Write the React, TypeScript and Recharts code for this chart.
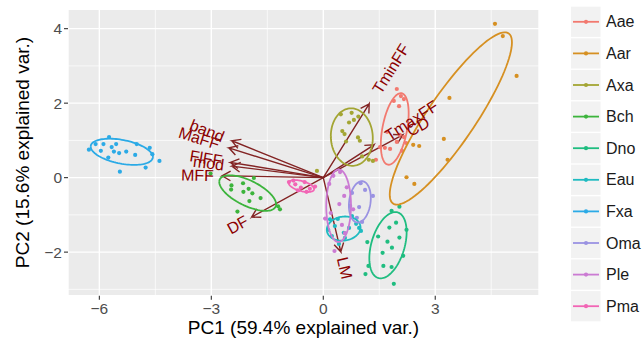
import React from 'react';
import { ScatterChart, Scatter, XAxis, YAxis, CartesianGrid, ReferenceLine, Label } from 'recharts';

const FONT = "'Liberation Sans', Arial, Helvetica, sans-serif";

const groupNames = ['Aae', 'Aar', 'Axa', 'Bch', 'Dno', 'Eau', 'Fxa', 'Oma', 'Ple', 'Pma'];
const groupColors = ['#F2796F', '#D69022', '#A3A533', '#3CB43C', '#1FBD80', '#1FBBC1', '#2BAAE6', '#9A92E2', '#CB7BD3', '#F265B5'];

// PC1, PC2 scores per group
const aae = [[1.97, 2.38], [2.08, 2.19], [1.89, 2.06], [2.16, 2.11], [2.03, 1.92], [1.71, 1.23], [2.05, 1.15], [1.65, 0.80], [1.79, 0.77], [1.97, 0.96], [2.16, 1.09], [2.22, 0.93], [1.41, 0.48], [2.11, 0.72], [1.52, 0.82]];
const aar = [[4.60, 4.13], [4.81, 3.80], [5.18, 2.73], [3.38, 2.14], [3.23, 1.04], [2.57, 0.85], [2.41, 0.88], [3.33, 0.48], [2.23, 0.01], [2.44, -0.17]];
const axa = [[0.47, 1.70], [0.76, 1.74], [0.94, 1.64], [0.69, 1.48], [0.51, 1.25], [0.57, 1.17], [0.61, 0.97], [0.93, 1.08], [0.98, 0.99], [1.04, 0.57], [1.22, 0.48], [1.33, 0.45], [-0.17, 0.18], [0.82, 1.55]];
const bch = [[-3.02, 0.11], [-2.46, -0.21], [-2.47, -0.32], [-2.15, -0.15], [-1.86, -0.01], [-2.14, -0.38], [-2.00, -0.30], [-1.90, -0.42], [-1.68, -0.55], [-1.98, -0.63], [-2.30, -0.91], [-1.21, -0.77], [-1.16, -0.85]];
const dno = [[1.83, -0.89], [2.04, -0.78], [1.95, -1.21], [1.77, -1.34], [2.23, -1.40], [1.47, -1.58], [2.04, -1.61], [1.18, -1.73], [1.59, -2.02], [2.14, -2.10], [1.21, -2.37], [1.61, -2.37], [1.83, -2.40], [1.13, -2.59], [1.89, -2.85], [1.72, -1.72], [1.84, -1.88]];
const eau = [[0.18, -1.12], [0.39, -1.11], [0.31, -1.30], [0.13, -1.40], [0.55, -1.48], [0.69, -1.35], [0.77, -1.03], [0.96, -1.35], [1.01, -1.43], [0.42, -1.78], [0.58, -1.62], [0.88, -1.24], [0.23, -1.57]];
const fxa = [[-6.28, 0.75], [-6.10, 0.90], [-5.89, 0.90], [-5.74, 1.09], [-5.55, 0.90], [-5.67, 0.82], [-5.96, 0.72], [-5.61, 0.70], [-5.47, 0.66], [-5.28, 0.70], [-5.76, 0.54], [-5.00, 0.90], [-5.04, 0.61], [-4.65, 0.80], [-4.58, 0.63], [-4.39, 0.45], [-4.76, 0.27], [-5.45, 0.16]];
const oma = [[0.72, -0.76], [0.96, -0.79], [1.33, -0.49], [0.90, -1.08], [1.12, -0.33], [0.77, -0.41], [1.04, -1.19], [1.00, -0.15]];
const ple = [[0.27, 0.05], [0.16, -0.17], [0.63, -0.26], [0.56, -0.49], [0.43, -0.71], [0.50, -1.27], [0.58, -1.49], [0.30, -1.97], [0.20, -0.95], [0.45, 0.15], [0.80, -0.85], [0.05, -1.10]];
const pma = [[-0.92, -0.12], [-0.75, -0.18], [-0.60, -0.27], [-0.50, -0.12], [-0.36, -0.30], [-0.22, -0.24], [-0.68, -0.34], [-0.45, -0.38], [-0.80, -0.08]];

const groupPoints = [aae, aar, axa, bch, dno, eau, fxa, oma, ple, pma];

// variable loadings (arrow tips)
const varNames = ['TminFF', 'TmaxFF', 'CD', 'band', 'MaFF', 'FlFF', 'mod', 'MFF', 'DF', 'LM'];
const varPC1 = [1.23, 1.36, 2.13, -2.45, -2.53, -2.49, -2.45, -2.71, -1.92, 0.47];
const varPC2 = [1.98, 0.88, 1.15, 0.99, 0.80, 0.41, 0.31, 0.05, -1.06, -1.99];

const xTicks = [-6, -3, 0, 3];
const yTicks = [-2, 0, 2, 4];
const xMinorBreaks = [-4.5, -1.5, 1.5, 4.5];
const yMinorBreaks = [-3, -1, 1, 3];
const xDomain = [-6.84, 5.78];
const yDomain = [-3.17, 4.52];

const xTitle = 'PC1 (59.4% explained var.)';
const yTitle = 'PC2 (15.6% explained var.)';

const ARROW_COLOR = '#832424';
const LABEL_COLOR = '#8B0000';

function ellipseOf(pts: number[][], prob = 0.68) {
  const n = pts.length;
  const mx = pts.reduce((s, p) => s + p[0], 0) / n;
  const my = pts.reduce((s, p) => s + p[1], 0) / n;
  let sxx = 0, syy = 0, sxy = 0;
  pts.forEach((p) => {
    sxx += (p[0] - mx) ** 2;
    syy += (p[1] - my) ** 2;
    sxy += (p[0] - mx) * (p[1] - my);
  });
  sxx /= n - 1; syy /= n - 1; sxy /= n - 1;
  const a = Math.sqrt(sxx);
  const b = sxy / a;
  const c = Math.sqrt(Math.max(syy - b * b, 0));
  const ed = Math.sqrt(-2 * Math.log(1 - prob));
  const out: { x: number; y: number }[] = [];
  const N = 100;
  for (let i = 0; i <= N; i++) {
    const t = -Math.PI + (2 * Math.PI * i) / N;
    const ct = Math.cos(t), st = Math.sin(t);
    out.push({ x: mx + ed * a * ct, y: my + ed * (b * ct + c * st) });
  }
  return out;
}

function arrowPath(x: number, y: number) {
  const len = Math.hypot(x, y);
  const ux = x / len, uy = y / len;
  const L = 0.26, ang = Math.PI / 6;
  const ca = Math.cos(ang), sa = Math.sin(ang);
  const w1 = { x: x - L * (ux * ca - uy * sa), y: y - L * (uy * ca + ux * sa) };
  const w2 = { x: x - L * (ux * ca + uy * sa), y: y - L * (uy * ca - ux * sa) };
  return [{ x: 0, y: 0 }, { x, y }, w1, { x, y }, w2];
}

let measureCtx: CanvasRenderingContext2D | null = null;
function textWidth(s: string, size: number) {
  try {
    if (!measureCtx && typeof document !== 'undefined') {
      measureCtx = document.createElement('canvas').getContext('2d');
    }
    if (measureCtx) {
      measureCtx.font = `${size}px 'Liberation Sans', Arial, sans-serif`;
      return measureCtx.measureText(s).width;
    }
  } catch (e) { /* ignore */ }
  return s.length * size * 0.6;
}

const fmt = (v: number) => (v < 0 ? '\u2212' + Math.abs(v) : String(v));

const XTick = (p: any) => (
  <text x={p.x} y={p.y + 6.8} textAnchor="middle" dominantBaseline="central" fontSize={15.5} fill="#4D4D4D" fontFamily={FONT}>
    {fmt(p.payload.value)}
  </text>
);
const YTick = (p: any) => (
  <text x={p.x} y={p.y} textAnchor="end" dominantBaseline="central" fontSize={15.5} fill="#4D4D4D" fontFamily={FONT}>
    {fmt(p.payload.value)}
  </text>
);

const VarLabel = (props: any) => {
  const { cx, cy, payload } = props;
  if (cx == null || cy == null) return <g />;
  const angle = (Math.atan(payload.y / payload.x) * 180) / Math.PI;
  const w = textWidth(payload.name, 16);
  const pos = payload.x > 0;
  return (
    <text
      x={cx}
      y={cy}
      dx={pos ? 0.25 * w : -0.25 * w}
      transform={`rotate(${-angle}, ${cx}, ${cy})`}
      textAnchor={pos ? 'start' : 'end'}
      dominantBaseline="central"
      fontSize={16}
      fill={LABEL_COLOR}
      fontFamily={FONT}
    >
      {payload.name}
    </text>
  );
};

const empty = () => <g />;

export default function App() {
  const varData = varNames.map((name, i) => ({ name, x: varPC1[i], y: varPC2[i] }));
  return (
    <div style={{ position: 'absolute', left: 0, top: 0, width: 642, height: 347, background: '#FFFFFF', fontFamily: FONT }}>
      <ScatterChart width={642} height={347} margin={{ top: 9.3, right: 103, bottom: 0, left: 8 }}>
        <CartesianGrid fill="#EBEBEB" stroke="#FFFFFF" strokeWidth={1.4} />
        {xMinorBreaks.map((v) => (
          <ReferenceLine key={'mx' + v} x={v} stroke="#FFFFFF" strokeWidth={0.7} />
        ))}
        {yMinorBreaks.map((v) => (
          <ReferenceLine key={'my' + v} y={v} stroke="#FFFFFF" strokeWidth={0.7} />
        ))}
        <XAxis
          dataKey="x"
          type="number"
          domain={xDomain}
          allowDataOverflow
          ticks={xTicks}
          interval={0}
          height={51.3}
          axisLine={false}
          tickLine={{ stroke: '#333333', strokeWidth: 1.1 }}
          tickSize={4}
          tick={<XTick />}
        >
          <Label
            content={(p: any) => {
              const vb = p.viewBox || { x: 68, y: 295.7, width: 471, height: 51.3 };
              return (
                <text x={vb.x + vb.width / 2} y={vb.y + 32} textAnchor="middle" dominantBaseline="central" fontSize={19} fill="#000000" fontFamily={FONT}>
                  {xTitle}
                </text>
              );
            }}
          />
        </XAxis>
        <YAxis
          dataKey="y"
          type="number"
          domain={yDomain}
          allowDataOverflow
          ticks={yTicks}
          interval={0}
          width={60}
          axisLine={false}
          tickLine={{ stroke: '#333333', strokeWidth: 1.1 }}
          tickSize={4}
          tick={<YTick />}
        >
          <Label
            content={(p: any) => {
              const vb = p.viewBox || { x: 8, y: 9.3, width: 60, height: 286.4 };
              const cx = vb.x + 14;
              const cy = vb.y + vb.height / 2;
              return (
                <text x={cx} y={cy} transform={`rotate(-90, ${cx}, ${cy})`} textAnchor="middle" dominantBaseline="central" fontSize={19} fill="#000000" fontFamily={FONT}>
                  {yTitle}
                </text>
              );
            }}
          />
        </YAxis>

        {varData.map((v) => (
          <Scatter
            key={'arrow-' + v.name}
            data={arrowPath(v.x, v.y)}
            line={{ stroke: ARROW_COLOR, strokeWidth: 1.4 }}
            lineJointType="linear"
            shape={empty}
            isAnimationActive={false}
          />
        ))}

        {groupPoints.map((pts, gi) => (
          <Scatter
            key={'pts-' + groupNames[gi]}
            name={groupNames[gi]}
            data={pts.map((p) => ({ x: p[0], y: p[1] }))}
            fill={groupColors[gi]}
            shape={(p: any) => <circle cx={p.cx} cy={p.cy} r={2.1} fill={groupColors[gi]} />}
            isAnimationActive={false}
          />
        ))}

        {groupPoints.map((pts, gi) => (
          <Scatter
            key={'ell-' + groupNames[gi]}
            data={ellipseOf(pts)}
            line={{ stroke: groupColors[gi], strokeWidth: 1.8 }}
            lineJointType="linear"
            shape={empty}
            isAnimationActive={false}
          />
        ))}

        <Scatter data={varData} shape={VarLabel} isAnimationActive={false} />
      </ScatterChart>

      <svg width={642} height={347} style={{ position: 'absolute', left: 0, top: 0, pointerEvents: 'none' }}>
        {groupNames.map((g, i) => {
          const y0 = 6.7 + i * 31.6;
          const cy = y0 + 15.1;
          return (
            <g key={'leg-' + g}>
              <rect x={571} y={y0} width={29.5} height={30.2} fill="#F2F2F2" />
              <line x1={573} x2={599} y1={cy} y2={cy} stroke={groupColors[i]} strokeWidth={1.8} />
              <circle cx={586} cy={cy} r={2.1} fill={groupColors[i]} />
              <text x={606} y={cy} dominantBaseline="central" fontSize={16} fill="#1A1A1A" fontFamily={FONT}>
                {g}
              </text>
            </g>
          );
        })}
      </svg>
    </div>
  );
}
